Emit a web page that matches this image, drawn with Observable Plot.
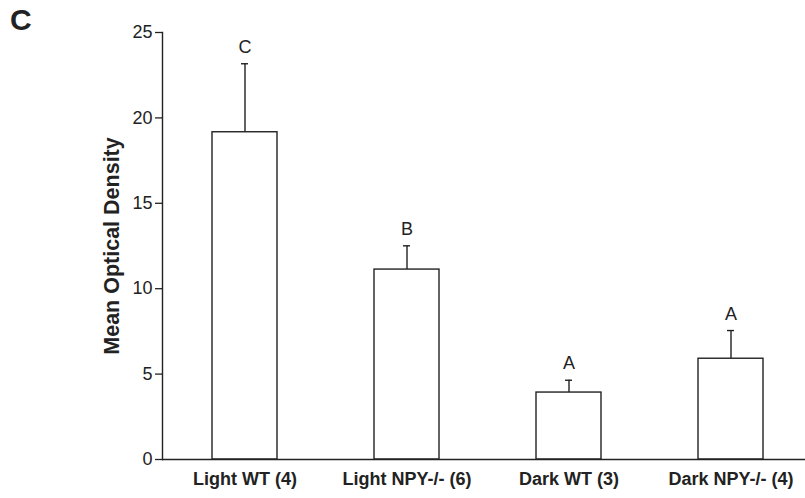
<!DOCTYPE html>
<html>
<head>
<meta charset="utf-8">
<script src="https://cdn.jsdelivr.net/npm/d3@7"></script>
<script src="https://cdn.jsdelivr.net/npm/@observablehq/plot@0.6"></script>
<style>
  html, body { margin: 0; padding: 0; background: #fff; }
  #wrap { position: relative; width: 805px; height: 498px; font-family: "Liberation Sans", Arial, sans-serif; }
  #panel { position: absolute; left: 10px; top: 3px; font-size: 30px; font-weight: bold; color: #222; }
  svg { display: block; }
</style>
</head>
<body>
<div id="wrap"><div id="panel">C</div></div>
<script>
const groups = ["Light WT (4)", "Light NPY-/- (6)", "Dark WT (3)", "Dark NPY-/- (4)"];
const means = [19.16, 11.12, 3.92, 5.90];
const sems = [4.01, 1.39, 0.72, 1.65];
const letters = ["C", "B", "A", "A"];
const yTicks = [0, 5, 10, 15, 20, 25];

const data = groups.map((g, i) => ({group: g, mean: means[i], hi: means[i] + sems[i], letter: letters[i]}));
const ink = "#222";

const chart = Plot.plot({
  width: 805,
  height: 498,
  marginLeft: 162,
  marginRight: 0,
  marginTop: 32,
  marginBottom: 39,
  style: {fontFamily: "'Liberation Sans', Arial, sans-serif", color: ink, background: "#fff"},
  x: {domain: groups, range: [162, 813], paddingInner: 0.6, paddingOuter: 0.3, label: null},
  y: {domain: [0, 25], label: null},
  marks: [
    Plot.axisY({ticks: yTicks, tickSize: 7, tickPadding: 3, fontSize: 18, stroke: ink, strokeWidth: 1.3, fill: ink, label: null}),
    Plot.frame({anchor: "left", stroke: ink, strokeWidth: 1.4}),
    Plot.axisX({tickSize: 0, tickPadding: 13, fontSize: 18, fontWeight: "bold", fill: ink, label: null}),
    Plot.text(["Mean Optical Density"], {frameAnchor: "left", textAnchor: "middle", dx: -50, rotate: -90, fontSize: 21.5, fontWeight: "bold", fill: ink}),
    Plot.ruleX(data, {x: "group", y1: "mean", y2: "hi", stroke: ink, strokeWidth: 1.4}),
    Plot.tickY(data, {x: "group", y: "hi", stroke: ink, strokeWidth: 1.4, insetLeft: 29, insetRight: 29}),
    Plot.barY(data, {x: "group", y: "mean", fill: "white", stroke: ink, strokeWidth: 1.4}),
    Plot.ruleY([0], {stroke: ink, strokeWidth: 1.4}),
    Plot.text(data, {x: "group", y: "hi", text: "letter", lineAnchor: "bottom", dy: -11, fontSize: 18, fill: ink})
  ]
});
document.getElementById("wrap").appendChild(chart);
</script>
</body>
</html>
